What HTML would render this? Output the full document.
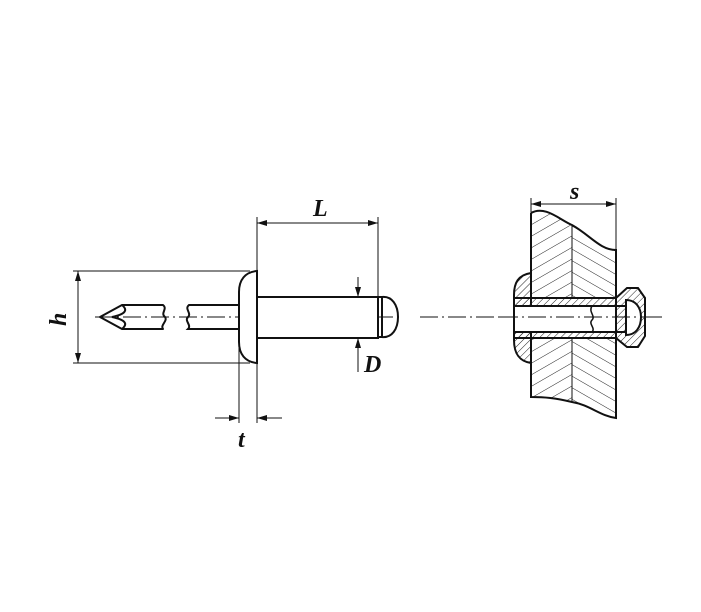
<!DOCTYPE html>
<html><head><meta charset="utf-8"><style>html,body{margin:0;padding:0;background:#fff}svg{display:block}</style></head>
<body>
<svg width="701" height="612" viewBox="0 0 701 612" xmlns="http://www.w3.org/2000/svg">
<defs>
<pattern id="hA" width="10" height="10" patternUnits="userSpaceOnUse" patternTransform="rotate(60)"><line x1="0" y1="0" x2="0" y2="10" stroke="#222" stroke-width="1"/></pattern>
<pattern id="hB" width="10" height="10" patternUnits="userSpaceOnUse" patternTransform="rotate(-60)"><line x1="0" y1="0" x2="0" y2="10" stroke="#222" stroke-width="1"/></pattern>
<pattern id="hC" width="5" height="5" patternUnits="userSpaceOnUse" patternTransform="rotate(45)"><line x1="0" y1="0" x2="0" y2="5" stroke="#222" stroke-width="1"/></pattern>
<marker id="ar" viewBox="0 0 10 6" refX="10" refY="3" markerWidth="10" markerHeight="6" orient="auto-start-reverse" markerUnits="userSpaceOnUse"><path d="M0,0 L10,3 L0,6 z" fill="#111"/></marker>
</defs>
<g fill="none" stroke="#111" stroke-width="1">
<line x1="95" y1="317" x2="400" y2="317" stroke-dasharray="18,4,2,4"/>
<line x1="420" y1="317" x2="662" y2="317" stroke-dasharray="18,4,2,4"/>
<line x1="73" y1="271" x2="250" y2="271"/>
<line x1="73" y1="363" x2="250" y2="363"/>
<line x1="78" y1="271" x2="78" y2="363" marker-start="url(#ar)" marker-end="url(#ar)"/>
<line x1="257" y1="217" x2="257" y2="271"/>
<line x1="378" y1="217" x2="378" y2="298"/>
<line x1="257" y1="223" x2="378" y2="223" marker-start="url(#ar)" marker-end="url(#ar)"/>
<line x1="239" y1="330" x2="239" y2="423"/>
<line x1="257" y1="363" x2="257" y2="423"/>
<line x1="215" y1="418" x2="239" y2="418" marker-end="url(#ar)"/>
<line x1="282" y1="418" x2="257" y2="418" marker-end="url(#ar)"/>
<line x1="358" y1="277" x2="358" y2="297" marker-end="url(#ar)"/>
<line x1="358" y1="372" x2="358" y2="338" marker-end="url(#ar)"/>
<line x1="358" y1="297" x2="358" y2="338"/>
<line x1="531" y1="198" x2="531" y2="213"/>
<line x1="616" y1="198" x2="616" y2="250"/>
<line x1="531" y1="204" x2="616" y2="204" marker-start="url(#ar)" marker-end="url(#ar)"/>
</g>
<g fill="none" stroke="#111" stroke-width="2">
<path d="M257,271 C245,272 239,280 239,292 L239,342 C239,354 245,362 257,363 Z" fill="#fff"/>
<rect x="257" y="297" width="121" height="41" fill="#fff"/>
<path d="M378,297 L382,297 L382,337 L378,337"/>
<path d="M382,297 C392,296 398,305 398,317 C398,329 392,338 382,337 Z"/>
<line x1="382" y1="297" x2="382" y2="337"/>
<path d="M239,305 L189,305 C184,309 192,313 188,317 C184,321 192,325 188,329 L239,329"/>
<path d="M100,317 L122,305 L163,305 C168,309 160,313 165,317 C168,321 160,325 163,329 L122,329 Z" stroke-linejoin="round"/>
<path d="M122,305 C128,310 126,314 112,317 C126,320 128,324 122,329"/>
</g>
<g stroke="#111" stroke-width="2">
<path d="M531,213 C545,205 560,220 572,225 L572,298 L531,298 Z" fill="url(#hA)" stroke="none"/>
<path d="M572,225 C590,235 600,250 616,250 L616,298 L572,298 Z" fill="url(#hB)" stroke="none"/>
<path d="M531,338 L572,338 L572,402 C555,398 545,397 531,397 Z" fill="url(#hA)" stroke="none"/>
<path d="M572,338 L616,338 L616,418 C600,416 590,405 572,402 Z" fill="url(#hB)" stroke="none"/>
<path d="M531,213 C545,205 560,220 572,225 C590,235 600,250 616,250 L616,298 M531,213 L531,397 C545,397 555,398 572,402 C590,405 600,416 616,418 L616,338" fill="none"/>
<line x1="572" y1="225" x2="572" y2="298" stroke-width="1"/>
<line x1="572" y1="338" x2="572" y2="402" stroke-width="1"/>
<path d="M531,273 C518,275 514,283 514,295 L514,340 C514,352 518,361 531,363 Z" fill="url(#hC)"/>
<rect x="514" y="298" width="102" height="8" fill="url(#hC)"/>
<rect x="514" y="332" width="102" height="6" fill="url(#hC)"/>
<rect x="514" y="306" width="112" height="26" fill="#fff"/>
<path d="M616,298 L627,288 L638,288 L645,298 L645,336 L638,347 L627,347 L616,338 Z" fill="url(#hC)"/>
<path d="M626,300 C636,300 641,308 641,317 C641,327 636,335 626,335 Z" fill="#fff"/>
<line x1="616" y1="306" x2="626" y2="306"/>
<line x1="616" y1="332" x2="626" y2="332"/>
<path d="M592,306 C588,312 596,316 592,320 C588,324 596,328 592,332" fill="none" stroke-width="1.5"/>
<line x1="514" y1="306" x2="514" y2="332"/>
</g>
<line x1="500" y1="317" x2="662" y2="317" stroke="#111" stroke-width="1" stroke-dasharray="18,4,2,4"/>
<g font-family="Liberation Serif, serif" font-weight="bold" font-style="italic" font-size="24" fill="#111">
<text x="313" y="216">L</text>
<text x="364" y="372">D</text>
<text x="238" y="447">t</text>
<text x="570" y="199">s</text>
<text x="0" y="0" transform="translate(66,326) rotate(-90)">h</text>
</g>
</svg>
</body></html>
